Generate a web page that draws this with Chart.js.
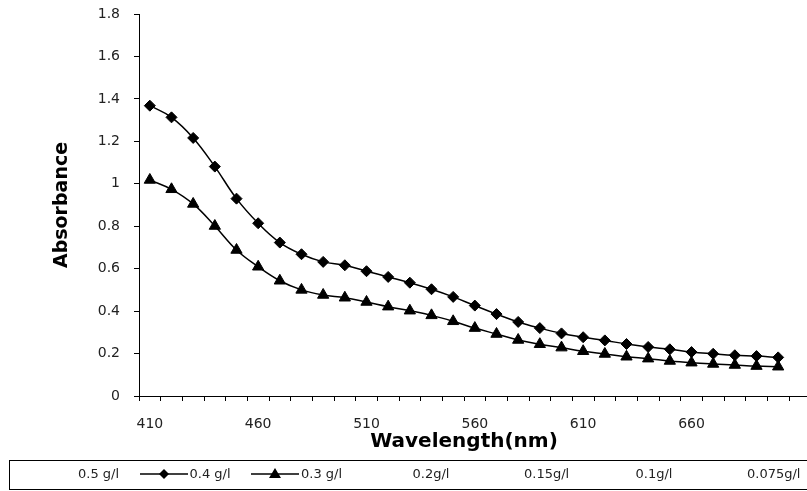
<!DOCTYPE html>
<html>
<head>
<meta charset="utf-8">
<title>Absorbance</title>
<script src="https://cdn.jsdelivr.net/npm/chart.js@4"></script>
<style>
  html, body { margin: 0; padding: 0; background: #fff; }
  #wrap { position: relative; width: 807px; height: 491px; overflow: hidden; }
  #legend {
    position: absolute; left: 9px; top: 460px; width: 810px; height: 30px;
    border: 1px solid #000; box-sizing: border-box;
    font: 13px "DejaVu Sans", sans-serif; color: #222;
  }
  .item { position: absolute; top: 5px; line-height: 16px; white-space: nowrap; }
  .sym { position: absolute; top: 7px; }
</style>
</head>
<body>
<div id="wrap">
  <canvas id="chart" width="807" height="491"></canvas>
  <div id="legend"></div>
</div>
<script>
// Длины волн (нм)
const wavelengths = [
  410, 420, 430, 440, 450, 460, 470, 480, 490, 500,
  510, 520, 530, 540, 550, 560, 570, 580, 590, 600,
  610, 620, 630, 640, 650, 660, 670, 680, 690, 700
];

// Оптическая плотность, 0.4 g/l
const absorbance04 = [
  1.368, 1.313, 1.216, 1.081, 0.930, 0.814, 0.723, 0.668, 0.632, 0.616,
  0.588, 0.561, 0.534, 0.503, 0.467, 0.426, 0.386, 0.349, 0.320, 0.295,
  0.277, 0.262, 0.245, 0.231, 0.220, 0.207, 0.199, 0.192, 0.188, 0.182
];

// Оптическая плотность, 0.3 g/l
const absorbance03 = [
  1.018, 0.974, 0.905, 0.801, 0.688, 0.609, 0.543, 0.500, 0.476, 0.463,
  0.443, 0.421, 0.402, 0.380, 0.352, 0.320, 0.292, 0.264, 0.244, 0.228,
  0.211, 0.198, 0.185, 0.176, 0.165, 0.157, 0.151, 0.146, 0.141, 0.138
];

// Подписи легенды (маркеры есть только у двух видимых серий)
const legendNames = ["0.5 g/l", "0.4 g/l", "0.3 g/l", "0.2g/l", "0.15g/l", "0.1g/l", "0.075g/l"];
const legendMarkers = [null, "diamond", "triangle", null, null, null, null];

const tickFont = { family: "'DejaVu Sans', sans-serif", size: 14 };

// Продолжение оси X до правого края, как на исходнике
const axisExtend = {
  id: "axisExtend",
  afterDraw(chart) {
    const ctx = chart.ctx;
    const a = chart.chartArea;
    ctx.save();
    ctx.strokeStyle = "#000";
    ctx.lineWidth = 1;
    ctx.beginPath();
    ctx.moveTo(a.right, Math.round(a.bottom) + 0.5);
    ctx.lineTo(chart.width, Math.round(a.bottom) + 0.5);
    ctx.stroke();
    ctx.restore();
  }
};

let ctx = document.getElementById("chart").getContext("2d");
let chart = new Chart(ctx, {
  type: "line",
  data: {
    labels: wavelengths.map(String),
    datasets: [
      {
        label: "0.4 g/l",
        data: absorbance04,
        borderColor: "#000",
        backgroundColor: "#000",
        borderWidth: 1.5,
        pointStyle: "rectRot",
        pointRadius: 5.5,
        pointBorderWidth: 1,
        tension: 0.4,
        fill: false,
      },
      {
        label: "0.3 g/l",
        data: absorbance03,
        borderColor: "#000",
        backgroundColor: "#000",
        borderWidth: 1.5,
        pointStyle: "triangle",
        pointRadius: 6.5,
        pointBorderWidth: 1,
        tension: 0.4,
        fill: false,
      },
    ],
  },
  options: {
    responsive: false,
    animation: false,
    layout: { padding: { top: 14, right: 18, bottom: 36, left: 0 } },
    plugins: {
      legend: { display: false },
      tooltip: { enabled: false },
    },
    scales: {
      x: {
        type: "category",
        offset: true,
        afterFit(scale) {
          scale.height = 59;
          scale.paddingLeft = 0;
          scale.paddingRight = 0;
        },
        border: { display: true, color: "#000", width: 1 },
        grid: { display: true, drawOnChartArea: false, tickLength: 5, color: "#000", offset: true },
        ticks: {
          autoSkip: false,
          maxRotation: 0,
          padding: 15,
          color: "#222",
          font: tickFont,
          callback: function (value, index) {
            return index % 5 === 0 ? wavelengths[index] : "";
          },
        },
        title: {
          display: true,
          text: "Wavelength(nm)",
          color: "#000",
          font: { family: "'DejaVu Sans', sans-serif", size: 20, weight: "bold" },
          padding: { top: 0, bottom: 1 },
        },
      },
      y: {
        min: 0,
        max: 1.8,
        afterFit(scale) {
          scale.width = 139;
          scale.paddingTop = 0;
          scale.paddingBottom = 0;
        },
        border: { display: true, color: "#000", width: 1 },
        grid: { display: true, drawOnChartArea: false, tickLength: 5, color: "#000" },
        ticks: {
          stepSize: 0.2,
          padding: 14,
          color: "#222",
          font: tickFont,
          callback: function (value) {
            return String(Number(value.toFixed(1)));
          },
        },
        title: {
          display: true,
          text: "Absorbance",
          color: "#000",
          font: { family: "'DejaVu Sans', sans-serif", size: 19, weight: "bold" },
          padding: { top: 51, bottom: 0 },
        },
      },
    },
  },
  plugins: [axisExtend],
});

// Легенда внизу в рамке
function symbolSvg(kind) {
  let marker = "";
  if (kind === "diamond") {
    marker = '<polygon points="24,1 29,6 24,11 19,6" fill="#000"/>';
  } else if (kind === "triangle") {
    marker = '<polygon points="24,0 30,10 18,10" fill="#000"/>';
  }
  return '<svg width="48" height="12"><line x1="0" y1="6" x2="48" y2="6" stroke="#000" stroke-width="1.5"/>' + marker + "</svg>";
}

let legend = document.getElementById("legend");
for (let i = 0; i < legendNames.length; i++) {
  let textLeft = 68 + 111.5 * i;
  if (legendMarkers[i]) {
    let sym = document.createElement("div");
    sym.className = "sym";
    sym.style.left = textLeft - 50 + "px";
    sym.innerHTML = symbolSvg(legendMarkers[i]);
    legend.appendChild(sym);
  }
  let item = document.createElement("div");
  item.className = "item";
  item.style.left = textLeft + "px";
  item.textContent = legendNames[i];
  legend.appendChild(item);
}
</script>
</body>
</html>
